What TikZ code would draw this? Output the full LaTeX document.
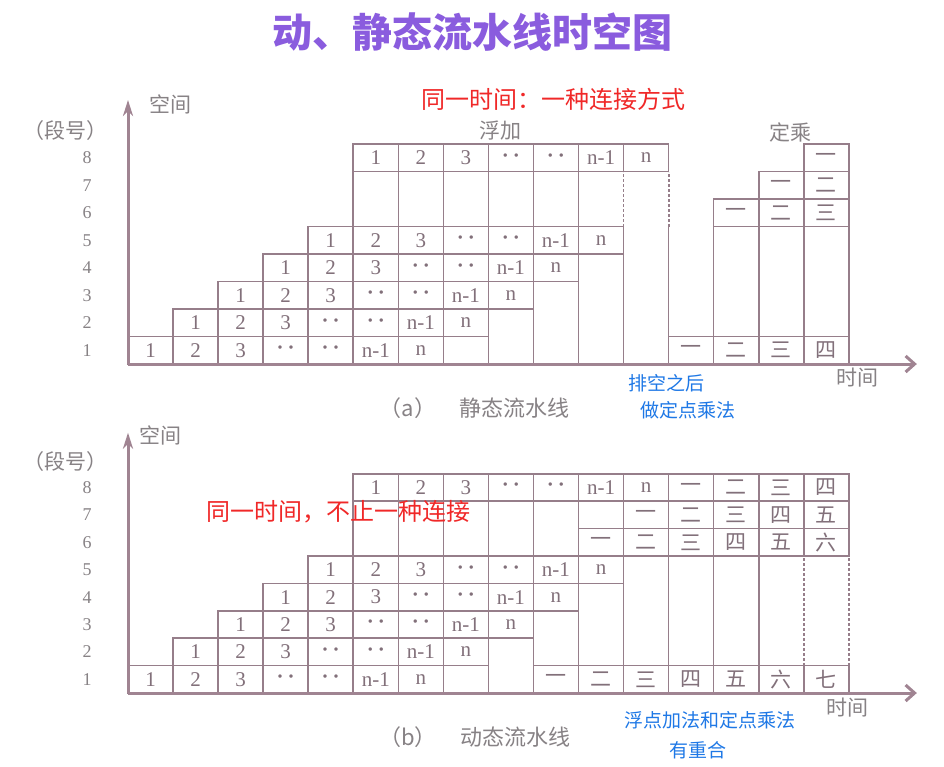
\documentclass[tikz,border=0pt]{standalone}
\usepackage{fontspec}
\setmainfont{Liberation Serif}
\newfontfamily\cjk{Noto Sans CJK SC}
\usetikzlibrary{arrows.meta}
\definecolor{gridc}{RGB}{150,126,138}
\definecolor{axisc}{RGB}{160,132,146}
\definecolor{txtc}{RGB}{130,112,122}
\definecolor{lblc}{RGB}{135,130,133}
\definecolor{titlec}{RGB}{138,92,222}
\definecolor{redc}{RGB}{240,40,40}
\definecolor{bluec}{RGB}{30,120,230}
\newcommand{\dd}{\textbf{·\hspace{4pt}·}}
\tikzset{
  gridline/.style={draw=gridc, line width=1.6pt},
  dashline/.style={draw=gridc, line width=1.8pt, dash pattern=on 3pt off 2pt},
  axisline/.style={draw=axisc, line width=3pt},
  celltxt/.style={text=txtc, font=\fontsize{21}{21}\selectfont, inner sep=0pt},
  cjknum/.style={text=txtc, font=\cjk\fontsize{21}{21}\selectfont, inner sep=0pt},
  rowlbl/.style={text=lblc, font=\fontsize{18}{18}\selectfont, inner sep=0pt},
  graylbl/.style={text=lblc, font=\cjk\fontsize{21}{21}\selectfont, inner sep=0pt},
  caplbl/.style={text=lblc, font=\cjk\fontsize{22}{22}\selectfont, inner sep=0pt},
  redtxt/.style={text=redc, font=\cjk\fontsize{24}{24}\selectfont, inner sep=0pt},
  bluetxt/.style={text=bluec, font=\cjk\fontsize{19}{19}\selectfont, inner sep=0pt},
  titletxt/.style={text=titlec, font=\cjk\bfseries\fontsize{40}{40}\selectfont, inner sep=0pt},
}
\newcommand{\bx}[3]{\draw[gridline] (#1,#2) rectangle ({#1+1},#3);}
\newcommand{\cn}[5]{%
  \draw[gridline] (#2,#3) rectangle ({#2+1},#4);
  \node[cjknum] (#1) at ({#2+0.5},{(#3+#4)/2}) {#5};}
\newcommand{\floatrows}[1]{%
  \foreach \r in {1,...,5}{%
    \foreach \lab [count=\j from 0] in {1,2,3,\dd,\dd,n-1,n}{%
      \pgfmathtruncatemacro\cc{\r-1+\j}%
      \draw[gridline] (\cc,\r-1) rectangle (\cc+1,\r);
      \node[celltxt] (#1r\r c\cc) at (\cc+0.5,\r-0.5) {\lab};
    }}%
  \foreach \lab [count=\j from 5] in {1,2,3,\dd,\dd,n-1,n}{%
    \draw[gridline] (\j,7) rectangle (\j+1,8);
    \node[celltxt] (#1r8c\j) at (\j+0.5,7.5) {\lab};
  }%
  \foreach \c in {5,...,9}{\draw[gridline] (\c,5) rectangle (\c+1,7);}%
  \foreach \r in {1,...,8}{\node[rowlbl] (#1L\r) at (-0.91,\r-0.5) {\r};}%
}
\begin{document}
\begin{tikzpicture}[x=1pt,y=-1pt]
\fill[white] (0,0) rectangle (944,766);
\useasboundingbox (0,0) rectangle (944,766);

\node[titletxt] (title) at (472,32) {动、静态流水线时空图};

% ---------------- (a) static pipeline ----------------
\begin{scope}[shift={(128,364)},x=45.05pt,y=27.5pt]
  \floatrows{a}
  \bx{7}{0}{1}\bx{8}{0}{2}\bx{9}{0}{3}\bx{10}{0}{4}
  \draw[dashline] (11,5) -- (11,7);
  \draw[dashline] (12,5) -- (12,7);
  \draw[gridline] (11,0) -- (11,5);
  \draw[gridline] (12,0) -- (12,5);
  \cn{a1c12}{12}{0}{1}{一}
  \cn{a1c13}{13}{0}{1}{二}
  \cn{a1c14}{14}{0}{1}{三}
  \cn{a1c15}{15}{0}{1}{四}
  \bx{13}{1}{5}\bx{14}{1}{5}\bx{15}{1}{5}
  \cn{a6c13}{13}{5}{6}{一}
  \cn{a6c14}{14}{5}{6}{二}
  \cn{a7c14}{14}{6}{7}{一}
  \cn{a6c15}{15}{5}{6}{三}
  \cn{a7c15}{15}{6}{7}{二}
  \cn{a8c15}{15}{7}{8}{一}
  \coordinate (aO) at (0,0);
  \coordinate (aY) at (0,9.6);
  \coordinate (aX) at (17.51,0);
  \draw[axisline,-{Stealth[length=16pt,width=10pt,inset=5pt]}] (aO) -- (aY);
  \draw[axisline,-{Straight Barb[length=9pt,width=16pt]}] (aO) -- (aX);
\end{scope}

\node[graylbl] (akj) at (170,104) {空间};
\node[graylbl] (adh) at (65,131) {（段号）};
\node[graylbl] (afj) at (500,131) {浮加};
\node[graylbl] (adc) at (790,132) {定乘};
\node[graylbl] (asj) at (857,378) {时间};
\node[caplbl] (acapA) at (408,408) {（a）};
\node[caplbl] (acapB) at (514,408) {静态流水线};
\node[redtxt] (ared) at (553,99) {同一时间：一种连接方式};
\node[bluetxt] (ablue1) at (666,383) {排空之后};
\node[bluetxt] (ablue2) at (688,410) {做定点乘法};

% ---------------- (b) dynamic pipeline ----------------
\begin{scope}[shift={(128,693)},x=45.05pt,y=27.4pt]
  \floatrows{b}
  \bx{7}{0}{1}\bx{8}{0}{2}\bx{9}{1}{3}\bx{10}{1}{4}
  \bx{11}{1}{5}\bx{12}{1}{5}\bx{13}{1}{5}
  \draw[gridline] (14,1) -- (16,1);
  \draw[gridline] (14,5) -- (16,5);
  \draw[dashline] (15,1) -- (15,5);
  \draw[dashline] (16,1) -- (16,5);
  \cn{b1c9}{9}{0}{1}{一}
  \cn{b1c10}{10}{0}{1}{二}
  \cn{b1c11}{11}{0}{1}{三}
  \cn{b1c12}{12}{0}{1}{四}
  \cn{b1c13}{13}{0}{1}{五}
  \cn{b1c14}{14}{0}{1}{六}
  \cn{b1c15}{15}{0}{1}{七}
  \bx{10}{6}{7}
  \cn{b6c10}{10}{5}{6}{一}
  \cn{b6c11}{11}{5}{6}{二}
  \cn{b6c12}{12}{5}{6}{三}
  \cn{b6c13}{13}{5}{6}{四}
  \cn{b6c14}{14}{5}{6}{五}
  \cn{b6c15}{15}{5}{6}{六}
  \cn{b7c11}{11}{6}{7}{一}
  \cn{b7c12}{12}{6}{7}{二}
  \cn{b7c13}{13}{6}{7}{三}
  \cn{b7c14}{14}{6}{7}{四}
  \cn{b7c15}{15}{6}{7}{五}
  \cn{b8c12}{12}{7}{8}{一}
  \cn{b8c13}{13}{7}{8}{二}
  \cn{b8c14}{14}{7}{8}{三}
  \cn{b8c15}{15}{7}{8}{四}
  \coordinate (bO) at (0,0);
  \coordinate (bY) at (0,9.5);
  \coordinate (bX) at (17.51,0);
  \draw[axisline,-{Stealth[length=16pt,width=10pt,inset=5pt]}] (bO) -- (bY);
  \draw[axisline,-{Straight Barb[length=9pt,width=16pt]}] (bO) -- (bX);
\end{scope}

\node[graylbl] (bkj) at (160,435) {空间};
\node[graylbl] (bdh) at (65,462) {（段号）};
\node[graylbl] (bsj) at (847,708) {时间};
\node[caplbl] (bcapA) at (408,737) {（b）};
\node[caplbl] (bcapB) at (515,737) {动态流水线};
\node[redtxt] (bred) at (338,512) {同一时间，不止一种连接};
\node[bluetxt] (bblue1) at (710,720) {浮点加法和定点乘法};
\node[bluetxt] (bblue2) at (698,750) {有重合};
\end{tikzpicture}
\end{document}
